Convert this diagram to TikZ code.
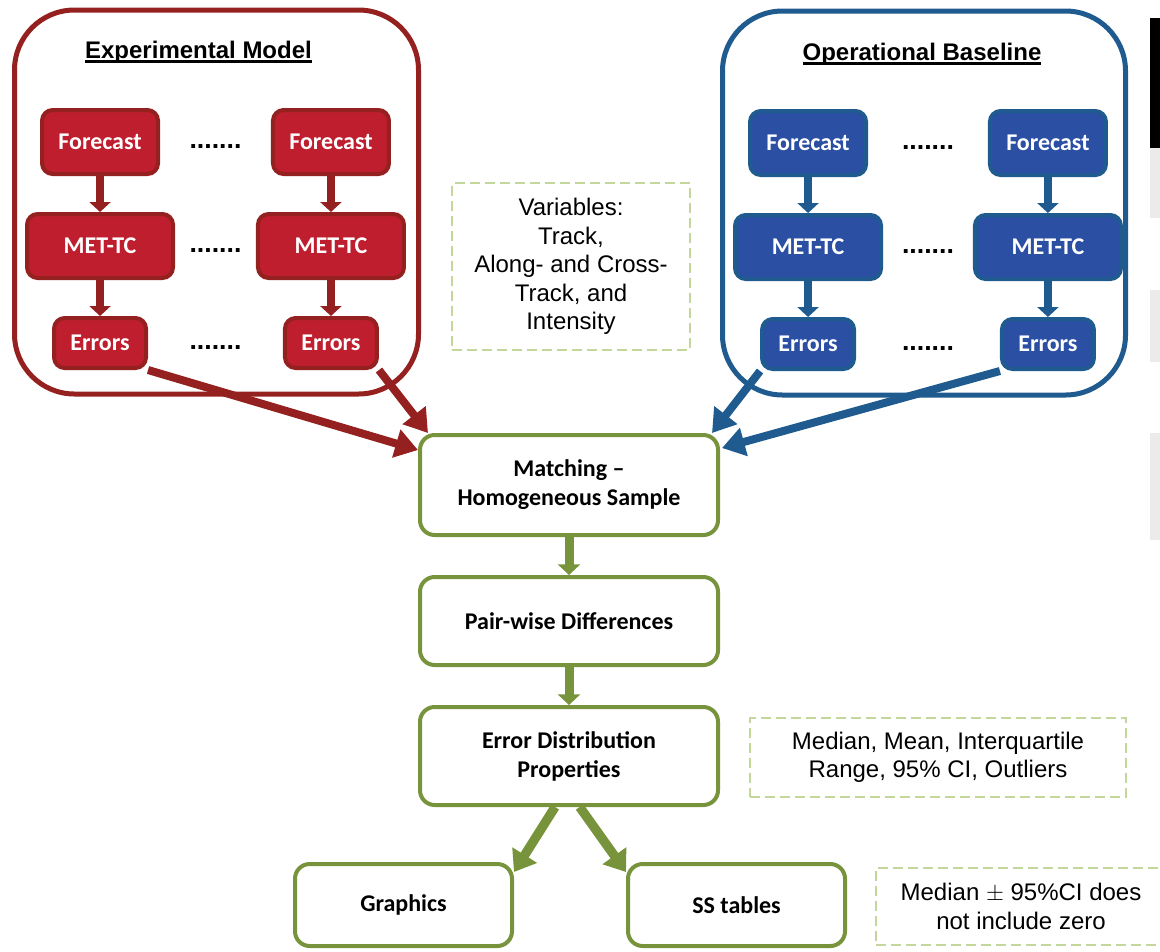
\documentclass[tikz,border=0pt]{standalone}
\usepackage{fontspec}
\setmainfont{Liberation Sans}
\newfontfamily\calfont{Carlito}
\usetikzlibrary{arrows.meta, positioning, matrix}
\usepackage{xcolor}
\definecolor{exred}{HTML}{BE1E2D}
\definecolor{exredline}{HTML}{94211F}
\definecolor{opblue}{HTML}{2A4FA3}
\definecolor{opblueline}{HTML}{1F5B8F}
\definecolor{stepgreen}{HTML}{77933C}
\definecolor{notegreen}{HTML}{C4D79B}
\definecolor{edgegray}{HTML}{EBEBEB}
\newcommand{\hdrul}[1]{\setbox0\hbox{#1}\rlap{\rule[-3.4pt]{\wd0}{2pt}}\box0}

\begin{document}
\begin{tikzpicture}[x=0.75pt, y=-0.75pt,
    grpred/.style = {rectangle, draw=exredline, line width=3.75pt, rounded corners=45pt, inner sep=0pt},
    grpblue/.style = {grpred, draw=opblueline},
    hdr/.style = {font=\bfseries\fontsize{18}{22}\selectfont, inner sep=0pt, anchor=base},
    redbox/.style = {rectangle, draw=exredline, line width=3pt, fill=exred, rounded corners=8pt, inner sep=0pt, text=white, font=\calfont\bfseries\fontsize{18}{21}\selectfont},
    bluebox/.style = {redbox, draw=opblueline, fill=opblue},
    fcst/.style = {minimum width=87pt, minimum height=48pt},
    mettc/.style = {minimum width=109.5pt, minimum height=48pt},
    errs/.style = {minimum width=69pt, minimum height=37.5pt},
    dots/.style = {font=\bfseries\fontsize{20}{24}\selectfont, inner sep=0pt, minimum width=37.5pt},
    stepbox/.style = {rectangle, draw=stepgreen, line width=3pt, rounded corners=11pt, fill=white, inner sep=0pt, align=center, font=\calfont\bfseries\fontsize{18}{21.75}\selectfont},
    note/.style = {rectangle, draw=notegreen, line width=1.5pt, dash pattern=on 7.5pt off 3.75pt, inner sep=0pt, align=center, font=\fontsize{18}{21.4}\selectfont},
    sarrow/.style = {-{Triangle[length=7.5pt, width=15.75pt]}, line width=6pt},
    barrow/.style = {-{Triangle[length=17pt, width=21pt]}, line width=6pt},
    garrow/.style = {-{Triangle[length=8pt, width=16.5pt]}, line width=6.75pt, draw=stepgreen},
    gbarrow/.style = {-{Triangle[length=15pt, width=21pt]}, line width=7pt, draw=stepgreen}
]
\useasboundingbox (0,0) rectangle (1160,951);
\clip (0,0) rectangle (1160,951);

% Cut-off strip at the right edge
\fill[black] (1150,18) rectangle (1160,148);
\fill[edgegray] (1150,148) rectangle (1160,218);
\fill[edgegray] (1150,290) rectangle (1160,362);
\fill[edgegray] (1150,433) rectangle (1160,540);

% Group frames
\node[grpred, minimum width=303pt, minimum height=288pt] (expbox) at (216.5,202) {};
\node[grpblue, minimum width=302.25pt, minimum height=288pt] (opbox) at (924,203) {};
\node[hdr] (exphdr) at (198.5,58) {\hdrul{Experimental Model}};
\node[hdr] (ophdr) at (922,60) {\hdrul{Operational Baseline}};

\matrix (expm) [column sep=10.9pt, row sep=27pt, ampersand replacement=\&] at (215.5,239) {
% Row 1
\node[redbox, fcst] (eF1) {Forecast}; \& \node[dots] (eD1) {\strut.......}; \& \node[redbox, fcst] (eF2) {Forecast}; \\
% Row 2
\node[redbox, mettc] (eM1) {MET-TC}; \& \node[dots] (eD2) {\strut.......}; \& \node[redbox, mettc] (eM2) {MET-TC}; \\
% Row 3
\node[redbox, errs] (eE1) {Errors}; \& \node[dots] (eD3) {\strut.......}; \& \node[redbox, errs] (eE2) {Errors}; \\
};

\matrix (opm) [column sep=14.25pt, row sep=27pt, ampersand replacement=\&] at (928,240) {
% Row 1
\node[bluebox, fcst] (oF1) {Forecast}; \& \node[dots] (oD1) {\strut.......}; \& \node[bluebox, fcst] (oF2) {Forecast}; \\
% Row 2
\node[bluebox, mettc] (oM1) {MET-TC}; \& \node[dots] (oD2) {\strut.......}; \& \node[bluebox, mettc] (oM2) {MET-TC}; \\
% Row 3
\node[bluebox, errs] (oE1) {Errors}; \& \node[dots] (oD3) {\strut.......}; \& \node[bluebox, errs] (oE2) {Errors}; \\
};

% Notes
\node[note, minimum width=178.5pt, minimum height=125pt] (vars) at (571,266.5)
  {Variables:\\Track,\\Along- and Cross-\\Track, and\\Intensity};
\node[note, minimum width=282pt, minimum height=59pt] (stats) at (938,757.5)
  {Median, Mean, Interquartile\\Range, 95\% CI, Outliers};
\node[note, minimum width=217.5pt, minimum height=57.75pt] (signif) at (1021,906.5)
  {Median $\pm$ 95\%CI does\\not include zero};

% Processing steps
\node[stepbox, minimum width=223.5pt, minimum height=75pt] (match) at (569,485) {Matching \textendash\\Homogeneous Sample};
\node[stepbox, minimum width=223.5pt, minimum height=66pt] (pairdiff) at (569,621) {Pair-wise Differences};
\node[stepbox, minimum width=223.5pt, minimum height=73.5pt] (errdist) at (569,756) {Error Distribution\\Properties};
\node[stepbox, minimum width=162.75pt, minimum height=61.5pt] (graph) at (403.5,905) {Graphics};
\node[stepbox, minimum width=162.75pt, minimum height=61.5pt] (sstab) at (736.5,905) {SS tables};

% Edges
\draw[sarrow, exredline] (eF1) -- (eM1);
\draw[sarrow, exredline] (eM1) -- (eE1);
\draw[sarrow, exredline] (eF2) -- (eM2);
\draw[sarrow, exredline] (eM2) -- (eE2);
\draw[sarrow, opblueline] (oF1) -- (oM1);
\draw[sarrow, opblueline] (oM1) -- (oE1);
\draw[sarrow, opblueline] (oF2) -- (oM2);
\draw[sarrow, opblueline] (oM2) -- (oE2);

\draw[barrow, exredline] (eE1.south east) -- ([yshift=-12.75pt]match.north west);
\draw[barrow, exredline] (eE2.south east) -- ([xshift=7.5pt]match.north west);
\draw[barrow, opblueline] (oE1.south west) -- ([xshift=-6pt]match.north east);
\draw[barrow, opblueline] (oE2.south west) -- ([xshift=1.5pt, yshift=-11.25pt]match.north east);

\draw[garrow] (match) -- (pairdiff);
\draw[garrow] (pairdiff) -- (errdist);
\draw[gbarrow] ([xshift=-10.5pt]errdist.south) -- ([yshift=-7.5pt]graph.north east);
\draw[gbarrow] ([xshift=8pt]errdist.south) -- ([yshift=-7.5pt]sstab.north west);

\end{tikzpicture}
\end{document}
